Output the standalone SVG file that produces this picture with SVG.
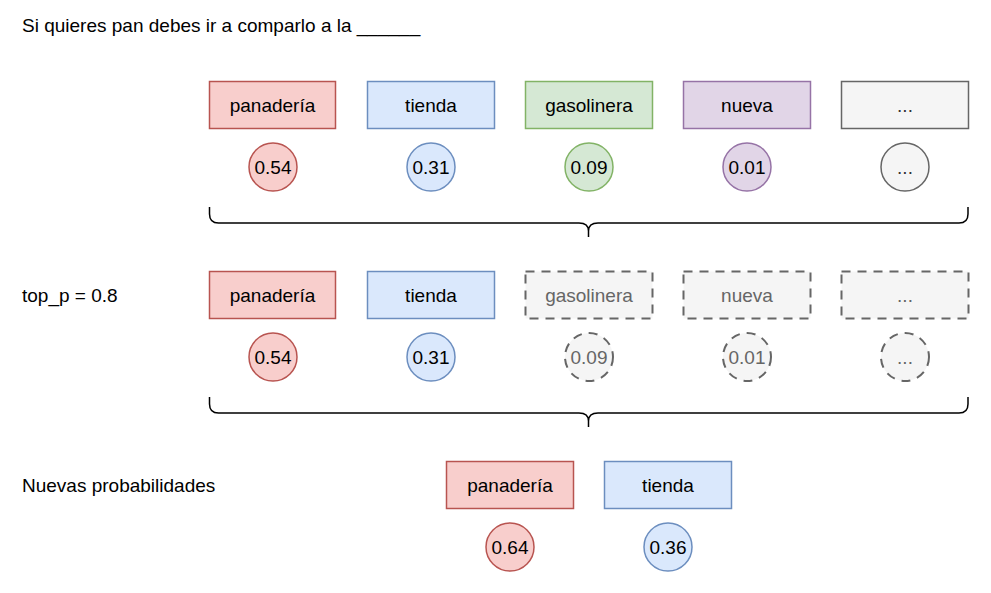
<svg xmlns="http://www.w3.org/2000/svg" width="991" height="593" viewBox="0 0 991 593">
<style>
text{font-family:"Liberation Sans",Arial,sans-serif;font-size:19px;fill:#000}
.c{text-anchor:middle}
.r{fill:#f8cecc;stroke:#b85450;stroke-width:1.5}
.b{fill:#dae8fc;stroke:#6c8ebf;stroke-width:1.5}
.g{fill:#d5e8d4;stroke:#82b366;stroke-width:1.5}
.p{fill:#e1d5e7;stroke:#9673a6;stroke-width:1.5}
.n{fill:#f5f5f5;stroke:#666666;stroke-width:1.5}
.d{fill:#f5f5f5;stroke:#666666;stroke-width:2;stroke-dasharray:9 7}
.dt{fill:#666666}
.nt{fill:#333333}
.br{fill:none;stroke:#000;stroke-width:1.5}
</style>
<rect width="991" height="593" fill="#fff"/>
<text x="22" y="32">Si quieres pan debes ir a comparlo a la ______</text>
<text x="22" y="302">top_p = 0.8</text>
<text x="22" y="492">Nuevas probabilidades</text>

<g id="row1">
<g id="r1-panaderia"><rect class="r" x="209.5" y="81.5" width="126" height="47"/><text class="c" x="272.5" y="111.5">panadería</text></g>
<g id="r1-tienda"><rect class="b" x="367.5" y="81.5" width="127" height="47"/><text class="c" x="431" y="111.5">tienda</text></g>
<g id="r1-gasolinera"><rect class="g" x="525.5" y="81.5" width="127" height="47"/><text class="c" x="589" y="111.5">gasolinera</text></g>
<g id="r1-nueva"><rect class="p" x="683.5" y="81.5" width="127" height="47"/><text class="c" x="747" y="111.5">nueva</text></g>
<g id="r1-etc"><rect class="n" x="841.5" y="81.5" width="127" height="47"/><text class="c nt" x="905" y="111.5">...</text></g>
<g id="r1-p1"><circle class="r" cx="273" cy="167" r="24"/><text class="c" x="273" y="173.5">0.54</text></g>
<g id="r1-p2"><circle class="b" cx="431" cy="167" r="24"/><text class="c" x="431" y="173.5">0.31</text></g>
<g id="r1-p3"><circle class="g" cx="589" cy="167" r="24"/><text class="c" x="589" y="173.5">0.09</text></g>
<g id="r1-p4"><circle class="p" cx="747" cy="167" r="24"/><text class="c" x="747" y="173.5">0.01</text></g>
<g id="r1-p5"><circle class="n" cx="905" cy="167" r="24"/><text class="c nt" x="905" y="173.5">...</text></g>
</g>

<g id="row2">
<g id="r2-panaderia"><rect class="r" x="209.5" y="271.5" width="126" height="47"/><text class="c" x="272.5" y="301.5">panadería</text></g>
<g id="r2-tienda"><rect class="b" x="367.5" y="271.5" width="127" height="47"/><text class="c" x="431" y="301.5">tienda</text></g>
<g id="r2-gasolinera"><rect class="d" x="525.5" y="271.5" width="127" height="47"/><text class="c dt" x="589" y="301.5">gasolinera</text></g>
<g id="r2-nueva"><rect class="d" x="683.5" y="271.5" width="127" height="47"/><text class="c dt" x="747" y="301.5">nueva</text></g>
<g id="r2-etc"><rect class="d" x="841.5" y="271.5" width="127" height="47"/><text class="c dt" x="905" y="301.5">...</text></g>
<g id="r2-p1"><circle class="r" cx="273" cy="357" r="24"/><text class="c" x="273" y="363.5">0.54</text></g>
<g id="r2-p2"><circle class="b" cx="431" cy="357" r="24"/><text class="c" x="431" y="363.5">0.31</text></g>
<g id="r2-p3"><circle class="d" cx="589" cy="357" r="24"/><text class="c dt" x="589" y="363.5">0.09</text></g>
<g id="r2-p4"><circle class="d" cx="747" cy="357" r="24"/><text class="c dt" x="747" y="363.5">0.01</text></g>
<g id="r2-p5"><circle class="d" cx="905" cy="357" r="24"/><text class="c dt" x="905" y="363.5">...</text></g>
</g>

<g id="row3">
<g id="r3-panaderia"><rect class="r" x="446.5" y="461.5" width="127" height="47"/><text class="c" x="510" y="491.5">panadería</text></g>
<g id="r3-tienda"><rect class="b" x="604.5" y="461.5" width="127" height="47"/><text class="c" x="668" y="491.5">tienda</text></g>
<g id="r3-p1"><circle class="r" cx="510" cy="547" r="24"/><text class="c" x="510" y="553.5">0.64</text></g>
<g id="r3-p2"><circle class="b" cx="668" cy="547" r="24"/><text class="c" x="668" y="553.5">0.36</text></g>
</g>

<g id="connectors">
<path class="br" d="M209.5,207 L209.5,214 Q209.5,223 218.5,223 L579,223 Q588.5,223 588.5,231 L588.5,237 M588.5,231 Q588.5,223 598,223 L959,223 Q968,223 968,214 L968,207"/>
<path class="br" d="M209.5,397 L209.5,404 Q209.5,413 218.5,413 L579,413 Q588.5,413 588.5,421 L588.5,427 M588.5,421 Q588.5,413 598,413 L959,413 Q968,413 968,404 L968,397"/>
</g>
</svg>
